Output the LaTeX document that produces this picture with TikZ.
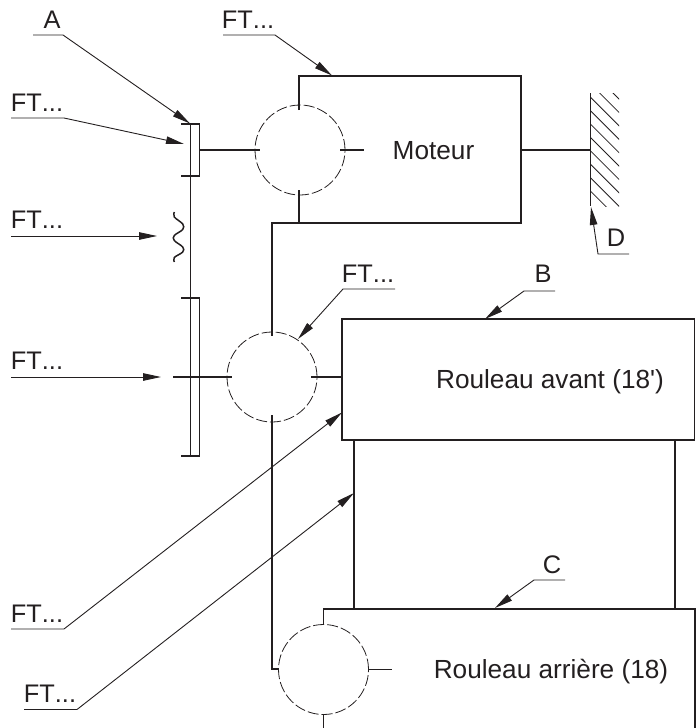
\documentclass[tikz,border=0pt]{standalone}
\usepackage{fontspec}
\setmainfont[Ligatures=TeXOff]{Liberation Sans}
\newfontfamily\tagfont[Kerning=Off,Ligatures=TeXOff]{Liberation Sans}
\usetikzlibrary{arrows.meta}
\definecolor{ink}{HTML}{231F20}
\tikzset{
  heavy/.style={line width=1.5pt,draw=ink,line cap=butt},
  light/.style={line width=1pt,draw=ink},
  hatchline/.style={line width=0.8pt,draw=ink},
  leader/.style={line width=0.9pt,draw=ink,-{Triangle[length=18pt,width=7.5pt]}},
  gearcircle/.style={circle,draw=ink,line width=0.8pt,dash pattern=on 11pt off 3pt,minimum size=90pt,inner sep=0pt},
  tag/.style={anchor=base,inner sep=0pt,text=ink,font=\tagfont\fontsize{25.4}{28}\selectfont},
  boxtext/.style={anchor=base,inner sep=0pt,text=ink,font=\fontsize{26.2}{28}\selectfont}
}
\begin{document}
\begin{tikzpicture}[x=1pt,y=-1pt]
\useasboundingbox (0,0) rectangle (698,728);
% gear circles
\node[gearcircle] (g1) at (300,150) {};
\node[gearcircle] (g2) at (272,377) {};
\node[gearcircle] (g3) at (323.5,669.5) {};
% motor outline and shafts
\coordinate (m1) at (299,110); \coordinate (m2) at (299,76); \coordinate (m3) at (521,76);
\coordinate (m4) at (521,223); \coordinate (m5) at (272,223); \coordinate (m6) at (272,336);
\coordinate (m7) at (299,190); \coordinate (m8) at (299,223);
\draw[heavy] (m1) -- (m2) -- (m3) -- (m4) -- (m5) -- (m6);
\draw[heavy] (m7) -- (m8);
\coordinate (s1) at (199,150); \coordinate (s2) at (260,150);
\coordinate (s3) at (340,150); \coordinate (s4) at (364,150);
\draw[heavy] (s1) -- (s2);
\draw[heavy] (s3) -- (s4);
% wall
\coordinate (w1) at (590.5,93); \coordinate (w2) at (590.5,206); \coordinate (w0) at (521,150);
\draw[heavy] (w0) -- (590.5,150);
\draw[heavy] (w1) -- (w2);
\begin{scope}
\clip (590.5,93) rectangle (619,206);
\foreach \k in {0,...,9} {
  \draw[hatchline] (580,{60+\k*13.4}) -- (640,{120+\k*13.4});
}
\end{scope}
% upper clutch
\coordinate (a1) at (181,124); \coordinate (a2) at (199.5,124);
\coordinate (a3) at (199.5,176); \coordinate (a4) at (181,176);
\draw[heavy] (a1) -- (a2) -- (a3) -- (a4);
% lower pulley
\coordinate (b1) at (181,298); \coordinate (b2) at (199.5,298);
\coordinate (b3) at (199.5,456); \coordinate (b4) at (181,456);
\draw[light] (b2) -- (b3);
\draw[heavy] (b1) -- (b2);
\draw[heavy] (b3) -- (b4);
\coordinate (t1) at (190.7,124); \coordinate (t2) at (190.7,456);
\draw[light] (t1) -- (t2);
\coordinate (x1) at (173,377); \coordinate (x2) at (232,377);
\coordinate (x3) at (199.5,377); \coordinate (x4) at (199.5,403);
\draw[heavy] (x1) -- (x2);
\draw[heavy] (x3) -- (x4);
% spring
\draw[heavy] plot[smooth,tension=0.6] coordinates {(174.3,212) (174.3,217) (182.7,224) (182.7,229.5) (174.3,235.5) (174.3,240.5) (182.7,247) (182.7,252) (174.3,257.5) (174.3,262)};
% second circle shafts
\coordinate (r1) at (311,377); \coordinate (r2) at (342,377);
\draw[heavy] (r1) -- (r2);
\coordinate (q1) at (272,415); \coordinate (q2) at (272,669); \coordinate (q3) at (279,669);
\draw[heavy] (q1) -- (q2) -- (q3);
% roller boxes
\coordinate (ba) at (342,319); \coordinate (bb) at (694.5,319); \coordinate (bc) at (694.5,440); \coordinate (bd) at (342,440);
\draw[heavy] (ba) -- (bb) -- (bc) -- (bd) -- cycle;
\coordinate (l1) at (354,440); \coordinate (l2) at (354,609);
\coordinate (l3) at (675,440); \coordinate (l4) at (675,609);
\draw[heavy] (l1) -- (l2);
\draw[heavy] (l3) -- (l4);
\coordinate (c1) at (323.5,624); \coordinate (c2) at (323.5,609); \coordinate (c3) at (695,609); \coordinate (c4) at (695,728);
\draw[heavy] (c1) -- (c2) -- (c3) -- (c4);
\coordinate (e1) at (369,669); \coordinate (e2) at (392,669);
\draw[light] (e1) -- (e2);
\coordinate (f1) at (323.5,715); \coordinate (f2) at (323.5,728);
\draw[heavy] (f1) -- (f2);
% box labels
\node[boxtext] (tm) at (433.5,159) {Moteur};
\node[boxtext] (tb) at (550,388) {Rouleau avant (18')};
\node[boxtext] (tc) at (551,678) {Rouleau arrière (18)};
% leader tags
\node[tag] (la) at (52,28) {A};
\node[tag] (lb) at (248,28) {FT...};
\node[tag] (lc) at (37,111) {FT...};
\node[tag] (ld) at (37,228) {FT...};
\node[tag] (le) at (37,369) {FT...};
\node[tag] (lf) at (368,282) {FT...};
\node[tag] (lg) at (543,282) {B};
\node[tag] (lh) at (616,246) {D};
\node[tag] (li) at (552,573) {C};
\node[tag] (lj) at (37,622) {FT...};
\node[tag] (lk) at (50,702) {FT...};
% leaders
\coordinate (A0) at (33,35); \coordinate (A1) at (63,35); \coordinate (A2) at (190,123.5);
\draw[leader] (A0) -- (A1) -- (A2);
\coordinate (B0) at (223,35); \coordinate (B1) at (275,35); \coordinate (B2) at (332,75.5);
\draw[leader] (B0) -- (B1) -- (B2);
\coordinate (C0) at (11,118); \coordinate (C1) at (64,118); \coordinate (C2) at (184,144);
\draw[leader] (C0) -- (C1) -- (C2);
\coordinate (D0) at (11,236); \coordinate (D2) at (157,236);
\draw[leader] (D0) -- (D2);
\coordinate (E0) at (11,377); \coordinate (E2) at (161,377);
\draw[leader] (E0) -- (E2);
\coordinate (F0) at (395,289); \coordinate (F1) at (343,289); \coordinate (F2) at (298,339);
\draw[leader] (F0) -- (F1) -- (F2);
\coordinate (G0) at (555,291); \coordinate (G1) at (524,291); \coordinate (G2) at (485,319);
\draw[leader] (G0) -- (G1) -- (G2);
\coordinate (H0) at (629,254); \coordinate (H1) at (598,254); \coordinate (H2) at (591,207);
\draw[leader] (H0) -- (H1) -- (H2);
\coordinate (I0) at (565,580); \coordinate (I1) at (534,580); \coordinate (I2) at (495,608);
\draw[leader] (I0) -- (I1) -- (I2);
\coordinate (J0) at (11,629); \coordinate (J1) at (64,629); \coordinate (J2) at (342,412.5);
\draw[leader] (J0) -- (J1) -- (J2);
\coordinate (K0) at (24,709.5); \coordinate (K1) at (77,709.5); \coordinate (K2) at (354,493);
\draw[leader] (K0) -- (K1) -- (K2);
\end{tikzpicture}
\end{document}
